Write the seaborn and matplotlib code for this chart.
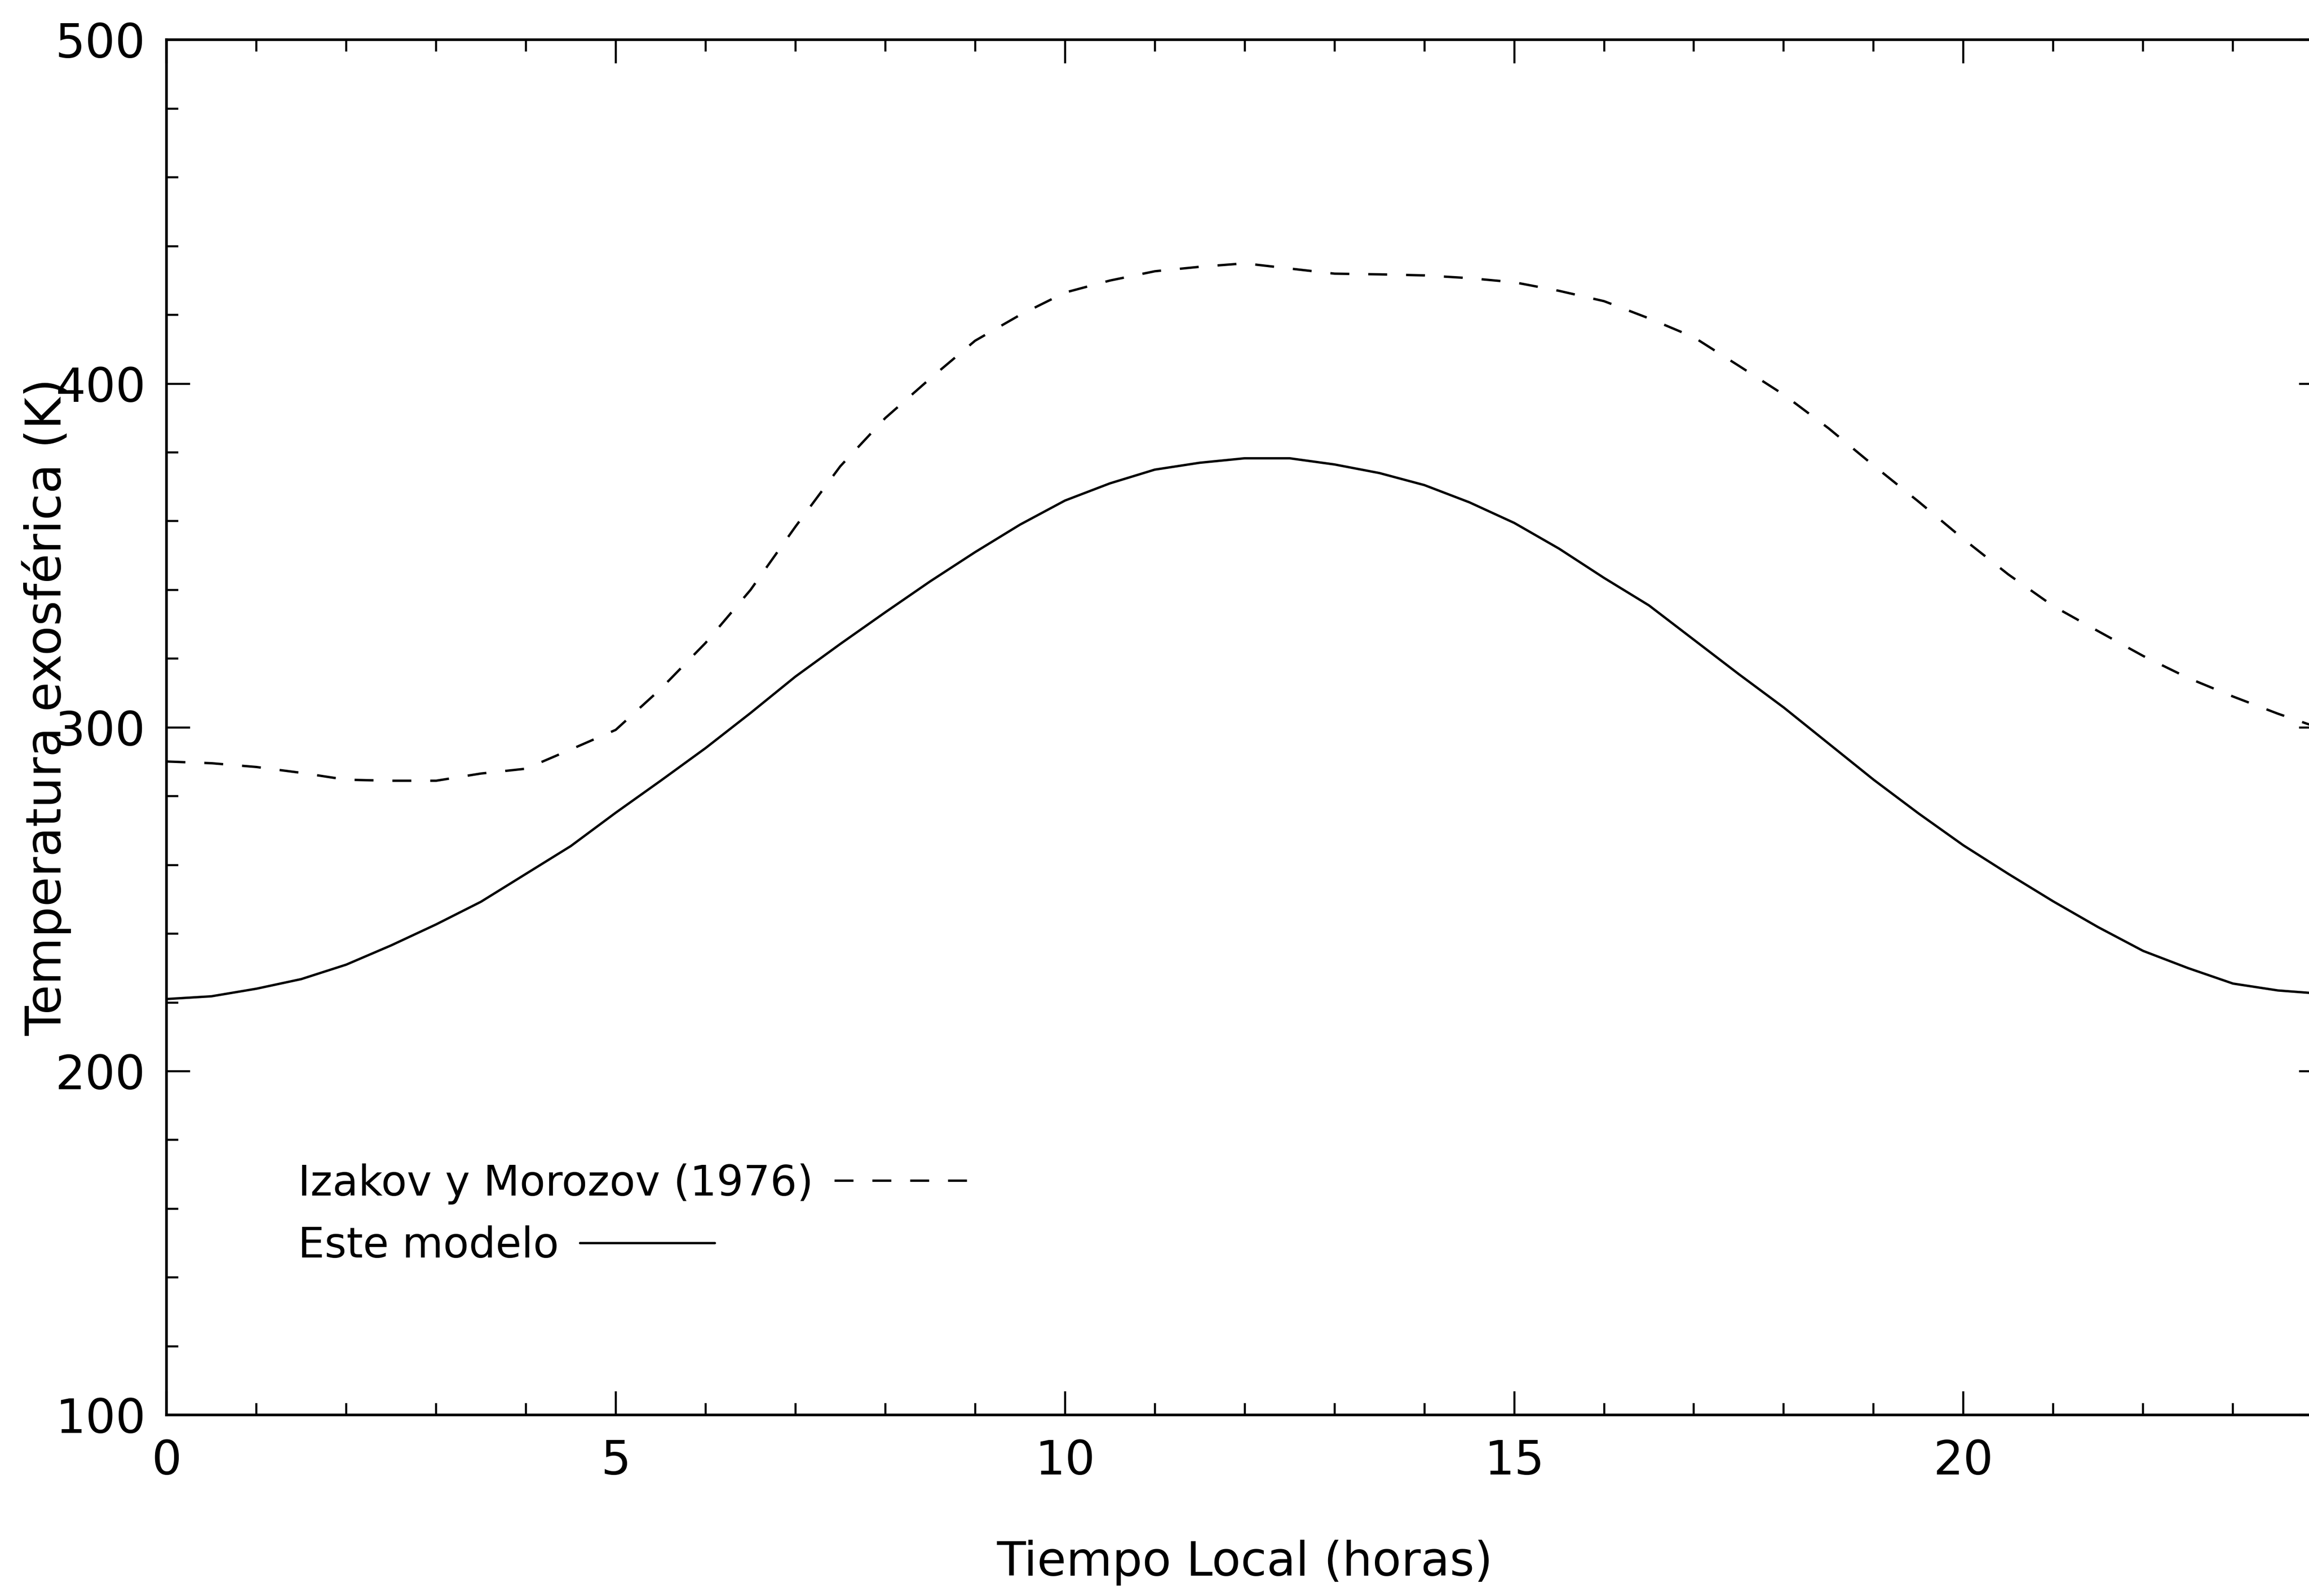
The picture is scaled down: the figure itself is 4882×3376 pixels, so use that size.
import pandas as pd
import seaborn as sns
import matplotlib.pyplot as plt
from matplotlib.ticker import MultipleLocator

# local time (hours) and exospheric temperature (K)
hours = [0, 0.5, 1, 1.5, 2, 2.5, 3, 3.5, 4, 4.5, 5, 5.5, 6, 6.5, 7, 7.5, 8, 8.5,
         9, 9.5, 10, 10.5, 11, 11.5, 12, 12.5, 13, 13.5, 14, 14.5, 15, 15.5, 16,
         16.5, 17, 17.5, 18, 18.5, 19, 19.5, 20, 20.5, 21, 21.5, 22, 22.5, 23,
         23.5, 24]

este_modelo = [221, 221.8, 224, 226.8, 231, 236.6, 242.7, 249.3, 257.4, 265.5,
               275.2, 284.5, 294, 304.2, 314.8, 324.3, 333.5, 342.5, 351, 359,
               366, 371, 375, 377, 378.3, 378.3, 376.5, 374, 370.5, 365.5,
               359.5, 352, 343.5, 335.5, 325.5, 315.5, 305.8, 295.3, 284.8, 275,
               265.7, 257.4, 249.4, 241.9, 235, 230, 225.5, 223.5, 222.5]

izakov_morozov = [290.1, 289.6, 288.5, 286.8, 284.8, 284.5, 284.5, 286.6, 288,
                  293.6, 299.3, 311.2, 324.6, 340, 358.4, 376, 390, 401.5, 412.5,
                  420, 426.5, 430, 432.7, 434, 435, 433.5, 432, 431.8, 431.5,
                  430.7, 429.5, 427, 424, 419, 413.5, 405.2, 396.8, 387, 376.2,
                  365.7, 354.8, 344.5, 335.3, 328, 320.8, 314.4, 309, 304, 299.5]

df = pd.DataFrame({'hora': hours, 'modelo': este_modelo, 'izakov': izakov_morozov})

sns.set_theme(style="ticks")
plt.rcParams['font.family'] = ['DejaVu Sans']
plt.rcParams['text.color'] = 'black'
plt.rcParams['axes.labelcolor'] = 'black'
plt.rcParams['xtick.color'] = 'black'
plt.rcParams['ytick.color'] = 'black'

fig = plt.figure(figsize=(24.41, 16.88), dpi=200)
ax = fig.add_axes([0.0721, 0.1134, 0.9339, 0.8616])

sns.lineplot(data=df, x='hora', y='izakov', ax=ax, color='black', linewidth=1.8,
             linestyle=(0, (8, 8)), label='Izakov y Morozov (1976)')
sns.lineplot(data=df, x='hora', y='modelo', ax=ax, color='black', linewidth=1.8,
             label='Este modelo')

ax.set_xlim(0, 24)
ax.set_ylim(100, 500)
ax.xaxis.set_major_locator(MultipleLocator(5))
ax.xaxis.set_minor_locator(MultipleLocator(1))
ax.yaxis.set_major_locator(MultipleLocator(100))
ax.yaxis.set_minor_locator(MultipleLocator(20))

for side in ['left', 'right', 'top', 'bottom']:
    ax.spines[side].set_visible(True)
    ax.spines[side].set_linewidth(2.0)
    ax.spines[side].set_color('black')

ax.tick_params(which='both', direction='in', top=True, right=True, color='black')
ax.tick_params(which='major', length=18, width=1.6)
ax.tick_params(which='minor', length=9, width=1.6)
ax.tick_params(axis='x', which='major', labelsize=36, pad=18)
ax.tick_params(axis='y', which='major', labelsize=36, pad=16)

ax.set_xlabel('Tiempo Local (horas)', fontsize=36, labelpad=42)
ax.set_ylabel('Temperatura exosférica (K)', fontsize=37)
ax.yaxis.set_label_coords(-0.044, 0.515)

leg = ax.legend(loc='lower left', bbox_to_anchor=(0.061, 0.108), frameon=False,
                markerfirst=False, fontsize=32, handlelength=3.2,
                handletextpad=0.5, labelspacing=0.5, borderpad=0,
                borderaxespad=0)
# texts left-aligned, line samples right after each text
for col in leg._legend_handle_box.get_children():
    col.align = 'baseline'

fig.savefig('out.png', dpi=200, facecolor='white')
